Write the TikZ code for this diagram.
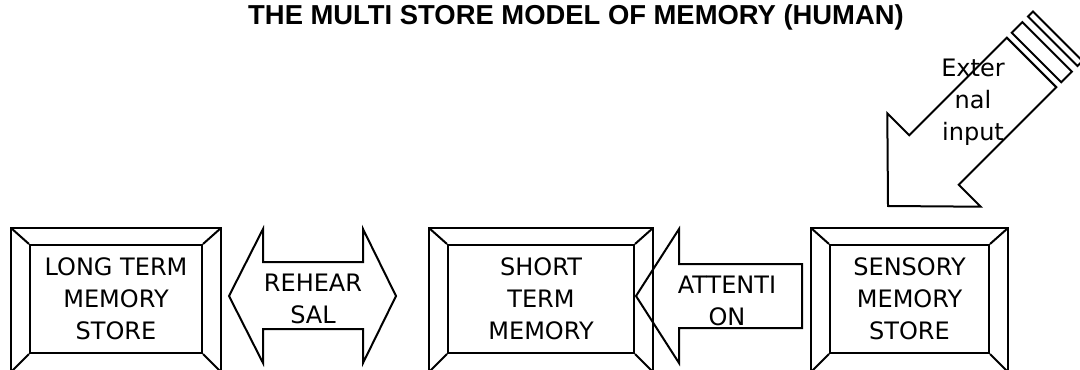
\documentclass[tikz,border=0pt]{standalone}
\usepackage{fontspec}
\setmainfont{DejaVu Sans}
\newfontfamily\headfont{Liberation Sans}
\usetikzlibrary{calc}

\tikzset{
  store/.style={draw, rectangle, line width=1pt, inner sep=0pt, minimum height=54pt,
    align=center, font=\fontsize{12}{16}\selectfont},
  blocktext/.style={align=center, inner sep=0pt, font=\fontsize{12}{16}\selectfont},
  blockarrow/.style={draw, line width=1pt, line join=miter},
}

\begin{document}
\begin{tikzpicture}[x=0.5pt, y=-0.5pt]
    \path[use as bounding box, fill=white] (0,0) rectangle (1080,369);
    \clip (0,0) rectangle (1080,369);

    \node[anchor=base, font=\headfont\bfseries\fontsize{13.7}{16}\selectfont] (title) at (576,25)
      {THE MULTI STORE MODEL OF MEMORY (HUMAN)};

    % the three stores, each in a bevelled frame
    \node[store, minimum width=86pt]   (ltm) at (116,299)   {LONG TERM\\MEMORY\\STORE};
    \node[store, minimum width=93pt]   (stm) at (541,299)   {SHORT\\TERM\\MEMORY};
    \node[store, minimum width=79.5pt] (sms) at (909.5,299) {SENSORY\\MEMORY\\STORE};

    \foreach \n in {ltm,stm,sms} {
      \draw[line width=1pt] ($(\n.north west)+(-18,-16)$) rectangle ($(\n.south east)+(18,18)$);
      \draw[line width=1pt] (\n.north west) -- ++(-18,-16);
      \draw[line width=1pt] (\n.north east) -- ++(18,-16);
      \draw[line width=1pt] (\n.south west) -- ++(-18,18);
      \draw[line width=1pt] (\n.south east) -- ++(18,18);
    }

    % rehearsal loop between long and short term
    \draw[blockarrow] (229,296) -- (263,229) -- (263,262) -- (363,262) -- (363,229)
      -- (396,296) -- (363,363) -- (363,329) -- (263,329) -- (263,363) -- cycle;
    \node[blocktext] (rehearsal) at (313,299) {REHEAR\\SAL};

    % attention: sensory -> short term
    \draw[blockarrow] (636,296) -- (679,229) -- (679,264) -- (802,264)
      -- (802,328) -- (679,328) -- (679,363) -- cycle;
    \begin{scope}
      \clip (640,264) rectangle (802,325);
      \node[blocktext] (attention) at (727,301) {ATTENTI\\ON};
    \end{scope}

    % striped arrow coming in from outside
    \begin{scope}[shift={(888,206)}, rotate=45]
      \draw[blockarrow] (0,0) -- (65,-66) -- (65,-35) -- (203,-35) -- (203,35)
        -- (65,35) -- (65,66) -- cycle;
      \draw[blockarrow] (210,-35) rectangle (225,35);
      \draw[blockarrow] (233,-35) rectangle (240,35);
    \end{scope}
    \node[blocktext] (input) at (973,102) {Exter\\nal\\input};
\end{tikzpicture}
\end{document}
